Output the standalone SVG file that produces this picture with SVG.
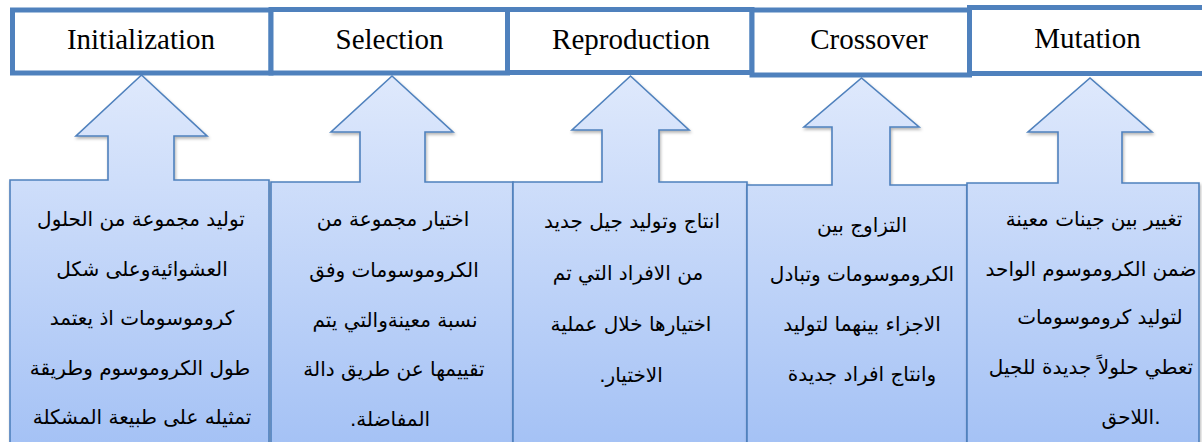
<svg xmlns="http://www.w3.org/2000/svg" width="1202" height="442" viewBox="0 0 1202 442">
<style>
.callout{fill:url(#fillGrad);stroke:#4F81BD;stroke-width:1.6;stroke-linejoin:miter;filter:url(#shadow)}
.stage{fill:#FFFFFF;stroke:#4F81BD;stroke-width:5}
.title{font-family:"Liberation Serif","Times New Roman",serif;font-size:29px;fill:#000;text-anchor:middle}
.ar{font-family:"DejaVu Sans","Noto Sans",sans-serif;font-size:20px;fill:#000;text-anchor:middle}
</style>
<defs>
<linearGradient id="fillGrad" gradientUnits="userSpaceOnUse" x1="0" y1="75" x2="0" y2="442">
<stop offset="0" stop-color="#DFE9FC"/>
<stop offset="1" stop-color="#A5C2F5"/>
</linearGradient>
<filter id="shadow" x="-5%" y="-5%" width="110%" height="110%">
<feDropShadow dx="1" dy="2" stdDeviation="1.5" flood-color="#000" flood-opacity="0.3"/>
</filter>
</defs>
<rect width="1202" height="442" fill="#FFFFFF"/>

<g id="connectors"></g>

<g id="callout-initialization">
<path class="callout" d="M10,446 V180 H108 V136 H76 L141.5,75 L207,136 H174 V180 H269 V446 Z"/>
<text class="ar" x="141" y="226">توليد مجموعة من الحلول</text>
<text class="ar" x="142" y="275.5">العشوائيةوعلى شكل</text>
<text class="ar" x="142" y="325">كروموسومات اذ يعتمد</text>
<text class="ar" x="140" y="374.5">طول الكروموسوم وطريقة</text>
<text class="ar" x="142" y="424">تمثيله على طبيعة المشكلة</text>
</g>

<g id="callout-selection">
<path class="callout" d="M271,446 V182 H360 V132 H331 L392,76 L453,132 H425 V182 H513 V446 Z"/>
<text class="ar" x="393" y="226">اختيار مجموعة من</text>
<text class="ar" x="394" y="276.5">الكروموسومات وفق</text>
<text class="ar" x="395" y="326.5">نسبة معينةوالتي يتم</text>
<text class="ar" x="394" y="376">تقييمها عن طريق دالة</text>
<text class="ar" x="390" y="425.5" direction="rtl" unicode-bidi="embed">المفاضلة.</text>
</g>

<g id="callout-reproduction">
<path class="callout" d="M513,446 V182 H602 V130 H572 L630.5,76 L689,130 H659 V182 H747 V446 Z"/>
<text class="ar" x="632" y="228">انتاج وتوليد جيل جديد</text>
<text class="ar" x="628" y="280">من الافراد التي تم</text>
<text class="ar" x="631" y="331">اختيارها خلال عملية</text>
<text class="ar" x="631" y="382" direction="rtl" unicode-bidi="embed">الاختيار.</text>
</g>

<g id="callout-crossover">
<path class="callout" d="M747,446 V185 H832 V127 H804 L861.5,78 L919,127 H890 V185 H967 V446 Z"/>
<text class="ar" x="862" y="232">التزاوج بين</text>
<text class="ar" x="862" y="281">الكروموسومات وتبادل</text>
<text class="ar" x="862" y="331">الاجزاء بينهما لتوليد</text>
<text class="ar" x="862" y="381">وانتاج افراد جديدة</text>
</g>

<g id="callout-mutation">
<path class="callout" d="M967,446 V183 H1058 V132 H1028 L1090,78 L1152,132 H1122 V183 H1199 V446 Z"/>
<text class="ar" x="1094" y="226">تغيير بين جينات معينة</text>
<text class="ar" x="1091" y="276">ضمن الكروموسوم الواحد</text>
<text class="ar" x="1100" y="324">لتوليد كروموسومات</text>
<text class="ar" x="1091" y="374">تعطي حلولاً جديدة للجيل</text>
<text class="ar" x="1131" y="424">اللاحق.</text>
</g>

<g id="stage-initialization">
<rect class="stage" x="12.5" y="10" width="258.5" height="63"/>
<text class="title" x="141" y="49">Initialization</text>
</g>
<g id="stage-selection">
<rect class="stage" x="271" y="9.5" width="236.5" height="63.5"/>
<text class="title" x="389.5" y="49">Selection</text>
</g>
<g id="stage-reproduction">
<rect class="stage" x="507.5" y="9.5" width="244.5" height="63"/>
<text class="title" x="631" y="49">Reproduction</text>
</g>
<g id="stage-crossover">
<rect class="stage" x="752" y="10" width="217.5" height="65"/>
<text class="title" x="869" y="49">Crossover</text>
</g>
<g id="stage-mutation">
<rect class="stage" x="969.5" y="7.5" width="240" height="66"/>
<text class="title" x="1087.5" y="48">Mutation</text>
</g>
</svg>
